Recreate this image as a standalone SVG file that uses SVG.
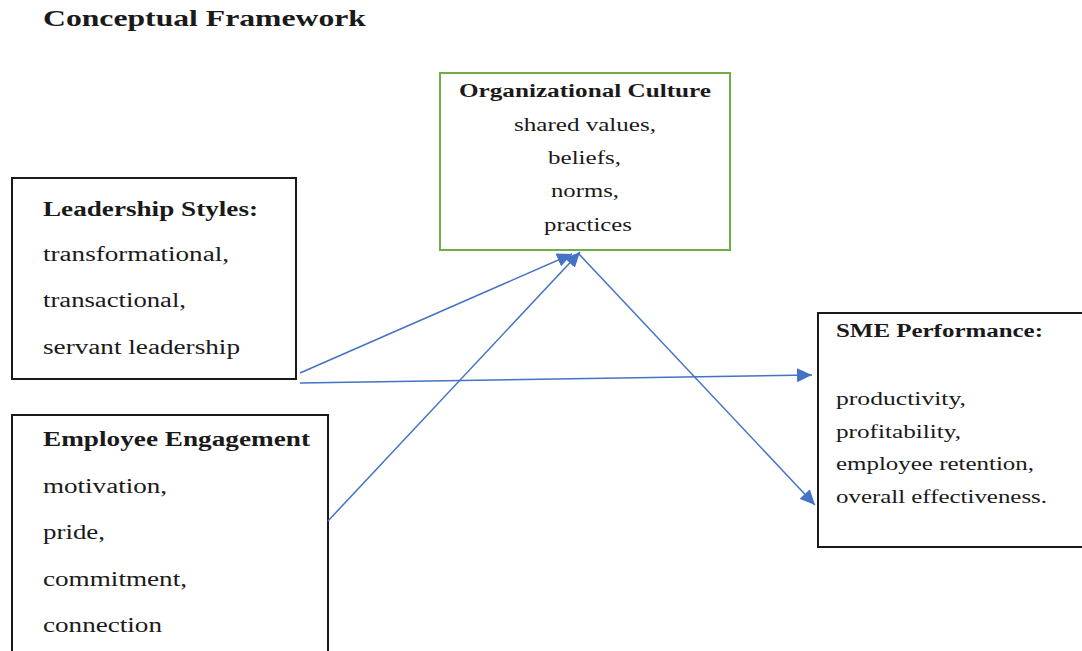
<svg xmlns="http://www.w3.org/2000/svg" width="1082" height="651" viewBox="0 0 1082 651">
  <style>
    .box { fill: #ffffff; stroke: #1a1a1a; stroke-width: 2; }
    .green { fill: #ffffff; stroke: #70AD47; stroke-width: 2; }
    text { font-family: "Liberation Serif", "Times New Roman", serif; fill: #1a1a1a; }
    .title { font-size: 24px; font-weight: bold; }
    .head { font-size: 20px; font-weight: bold; }
    .body { font-size: 20px; }
    .headS { font-size: 18px; font-weight: bold; }
    .bodyS { font-size: 18px; }
    .link { stroke: #4472C4; stroke-width: 1.5; fill: none; marker-end: url(#arrow); }
  </style>
  <defs>
    <marker id="arrow" markerUnits="userSpaceOnUse" markerWidth="16" markerHeight="14" refX="15" refY="7" orient="auto">
      <path d="M0,0 L15,7 L0,14 z" fill="#4472C4"/>
    </marker>
  </defs>
  <rect width="1082" height="651" fill="#ffffff"/>

  <text class="title" x="43" y="26" textLength="323" lengthAdjust="spacingAndGlyphs">Conceptual Framework</text>

  <g id="org-culture">
    <rect class="green" x="440" y="73" width="290" height="177"/>
    <text class="headS" x="459" y="97" textLength="252" lengthAdjust="spacingAndGlyphs">Organizational Culture</text>
    <text class="bodyS" x="514" y="131" textLength="142" lengthAdjust="spacingAndGlyphs">shared values,</text>
    <text class="bodyS" x="548" y="164" textLength="73" lengthAdjust="spacingAndGlyphs">beliefs,</text>
    <text class="bodyS" x="551" y="197" textLength="68" lengthAdjust="spacingAndGlyphs">norms,</text>
    <text class="bodyS" x="544" y="231" textLength="88" lengthAdjust="spacingAndGlyphs">practices</text>
  </g>

  <g id="leadership">
    <rect class="box" x="12" y="178" width="284" height="201"/>
    <text class="head" x="43" y="216" textLength="215" lengthAdjust="spacingAndGlyphs">Leadership Styles:</text>
    <text class="body" x="43" y="261" textLength="186" lengthAdjust="spacingAndGlyphs">transformational,</text>
    <text class="body" x="43" y="307" textLength="143" lengthAdjust="spacingAndGlyphs">transactional,</text>
    <text class="body" x="43" y="354" textLength="197" lengthAdjust="spacingAndGlyphs">servant leadership</text>
  </g>

  <g id="engagement">
    <rect class="box" x="12" y="415" width="316" height="245"/>
    <text class="head" x="43" y="446" textLength="267" lengthAdjust="spacingAndGlyphs">Employee Engagement</text>
    <text class="body" x="43" y="493" textLength="124" lengthAdjust="spacingAndGlyphs">motivation,</text>
    <text class="body" x="43" y="539" textLength="62" lengthAdjust="spacingAndGlyphs">pride,</text>
    <text class="body" x="43" y="586" textLength="144" lengthAdjust="spacingAndGlyphs">commitment,</text>
    <text class="body" x="43" y="632" textLength="119" lengthAdjust="spacingAndGlyphs">connection</text>
  </g>

  <g id="sme-performance">
    <rect class="box" x="818" y="313" width="280" height="234"/>
    <text class="headS" x="836" y="337" textLength="207" lengthAdjust="spacingAndGlyphs">SME Performance:</text>
    <text class="bodyS" x="836" y="405" textLength="130" lengthAdjust="spacingAndGlyphs">productivity,</text>
    <text class="bodyS" x="836" y="438" textLength="125" lengthAdjust="spacingAndGlyphs">profitability,</text>
    <text class="bodyS" x="836" y="470" textLength="198" lengthAdjust="spacingAndGlyphs">employee retention,</text>
    <text class="bodyS" x="836" y="503" textLength="211" lengthAdjust="spacingAndGlyphs">overall effectiveness.</text>
  </g>

  <g id="connectors">
    <line class="link" x1="300" y1="373" x2="572" y2="254"/>
    <line class="link" x1="300" y1="383" x2="812" y2="375"/>
    <line class="link" x1="328" y1="521" x2="580" y2="252"/>
    <line class="link" x1="578" y1="253" x2="815" y2="505"/>
  </g>
</svg>
